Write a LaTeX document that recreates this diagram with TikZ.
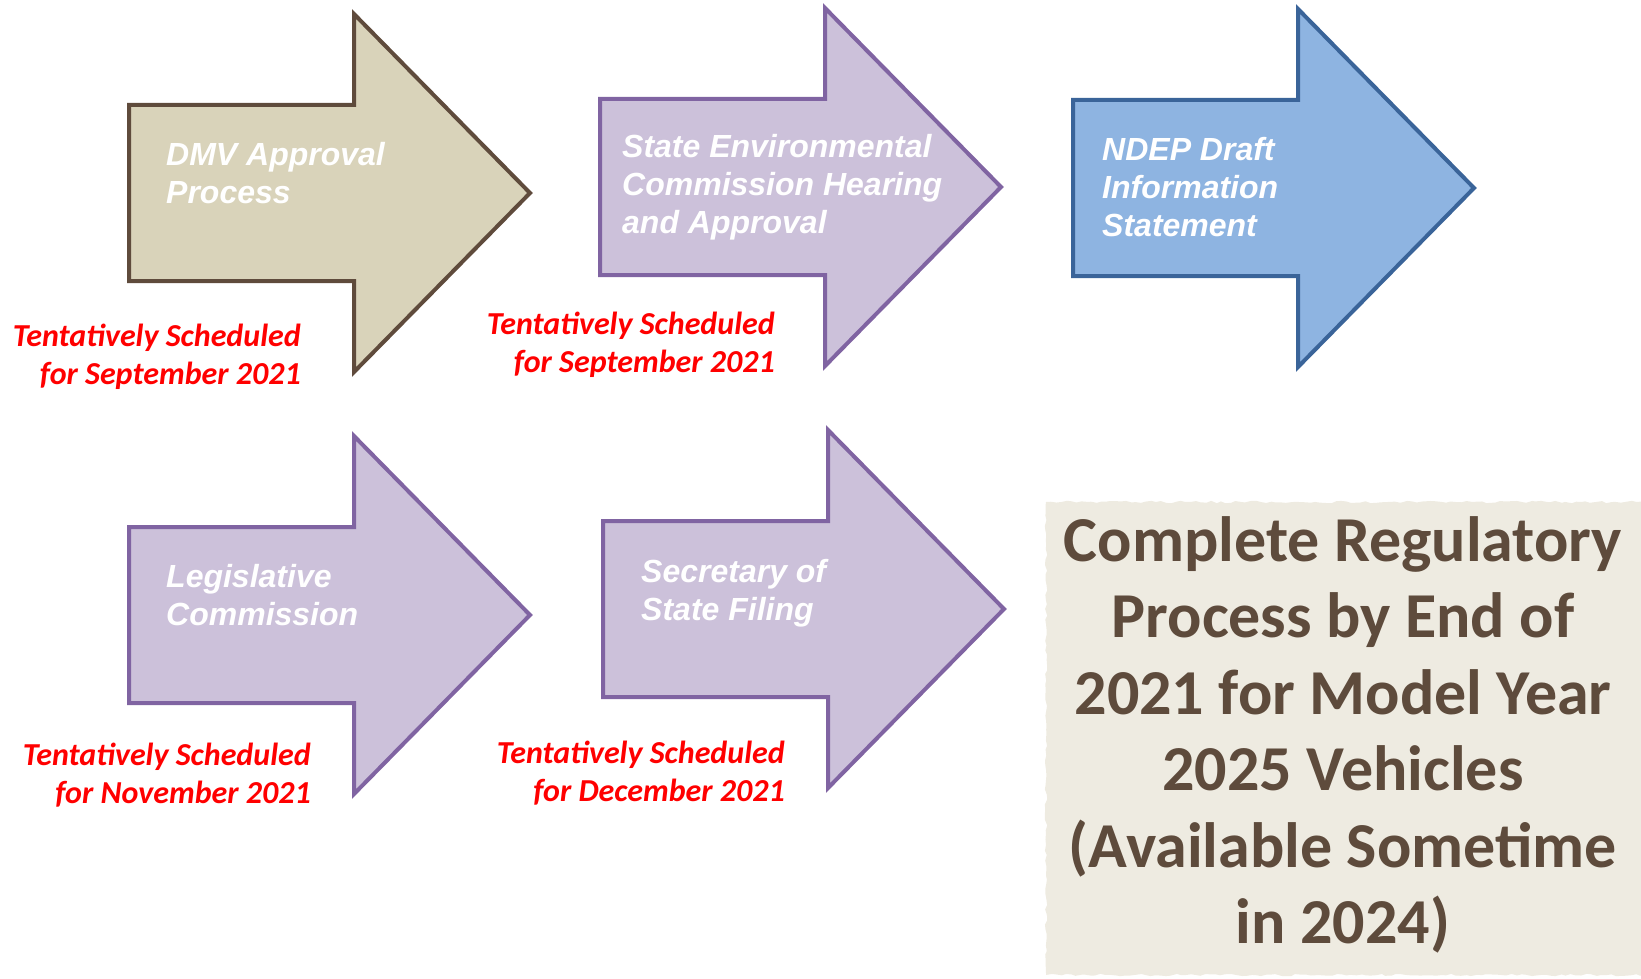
\documentclass[tikz,border=0pt]{standalone}
\usepackage{fontspec}
\setmainfont{Liberation Sans}
\newfontfamily\calibri{Carlito}
\usetikzlibrary{decorations.pathmorphing}
\definecolor{tanfill}{HTML}{D9D3BA}
\definecolor{tanline}{HTML}{5F4B3C}
\definecolor{lilacfill}{HTML}{CCC1DA}
\definecolor{lilacline}{HTML}{8064A2}
\definecolor{bluefill}{HTML}{8EB4E1}
\definecolor{blueline}{HTML}{3A6499}
\definecolor{paper}{HTML}{EEEBE1}
\definecolor{goalbrown}{HTML}{5E4B3C}
\tikzset{
	tanarrow/.style={draw=tanline,fill=tanfill,line width=4pt,line join=miter},
	lilacarrow/.style={draw=lilacline,fill=lilacfill,line width=4pt,line join=miter},
	bluearrow/.style={draw=blueline,fill=bluefill,line width=4pt,line join=miter},
	steptext/.style={anchor=north west,inner sep=0pt,align=left,text=white,
		font={\fontsize{32}{38}\selectfont\bfseries\itshape}},
	datetext/.style={anchor=north east,inner sep=0pt,align=right,text=red,
		font={\calibri\fontsize{32}{38}\selectfont\bfseries\itshape}},
	goaltext/.style={anchor=north,inner sep=0pt,align=center,text=goalbrown,
		font={\calibri\fontsize{64}{76.5}\selectfont\bfseries}}
}
\begin{document}
\begin{tikzpicture}[x=1pt,y=-1pt]
	\useasboundingbox (0,0) rectangle (1641,979);
	% the five block arrows
	\foreach \x/\y/\s in {129/105/tanarrow,600/99/lilacarrow,1073/100/bluearrow,129/527/lilacarrow,603/521/lilacarrow}
		\draw[\s] (\x,\y) -- ++(225,0) -- ++(0,-91) -- ++(176,179) -- ++(-176,179) -- ++(0,-91) -- ++(-225,0) -- cycle;
	\node[steptext] (a1) at (166,142) {DMV Approval\\Process};
	\node[steptext] (a2) at (622,134) {State Environmental\\Commission Hearing\\and Approval};
	\node[steptext] (a3) at (1102,137) {NDEP Draft\\Information\\Statement};
	\node[steptext] (a4) at (166,564) {Legislative\\Commission};
	\node[steptext] (a5) at (641,559) {Secretary of\\State Filing};
	% dates
	\node[datetext] (d1) at (301,324) {Tentatively Scheduled\\for September 2021};
	\node[datetext] (d2) at (775,312) {Tentatively Scheduled\\for September 2021};
	\node[datetext] (d3) at (311,743) {Tentatively Scheduled\\for November 2021};
	\node[datetext] (d4) at (785,741) {Tentatively Scheduled\\for December 2021};
	% goal box
	\pgfmathsetseed{7}
	\fill[paper,decorate,decoration={random steps,segment length=5pt,amplitude=1.2pt}]
		(1046,502) -- (1646,502) -- (1646,975) -- (1046,975) -- cycle;
	\node[goaltext] (goal) at (1343,516) {Complete Regulatory\\Process by End of\\2021 for Model Year\\2025 Vehicles\\(Available Sometime\\in 2024)};
\end{tikzpicture}
\end{document}
